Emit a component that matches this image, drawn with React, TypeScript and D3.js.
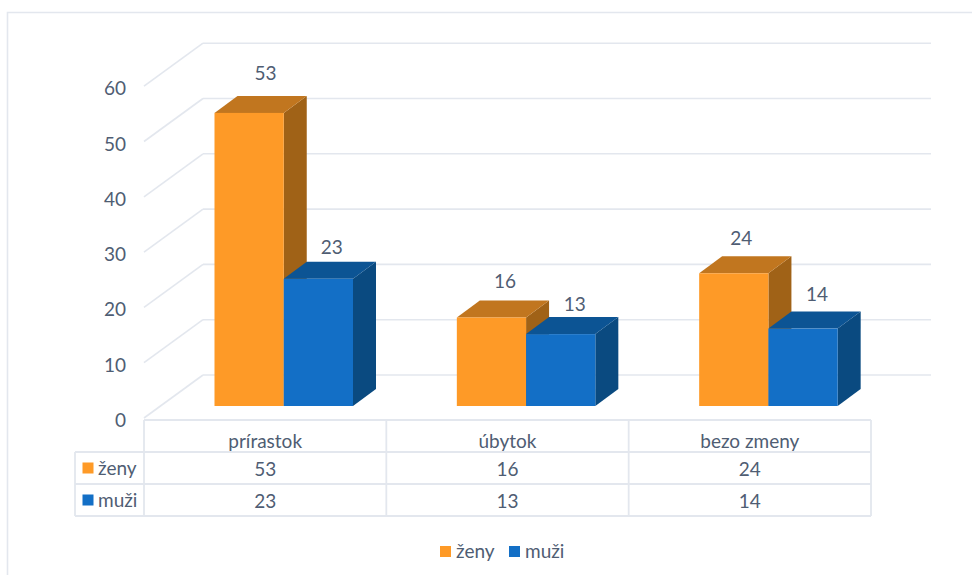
import React from "react";
import * as d3 from "d3";

const categories = ["prírastok", "úbytok", "bezo zmeny"];
const seriesNames = ["ženy", "muži"];
const zeny = [53, 16, 24];
const muzi = [23, 13, 14];
const yTicks = [0, 10, 20, 30, 40, 50, 60];

// Horizontal shift of each value label from its bar centre, and its lift above the bar top.
const labelShiftX = [[16.5, 13.5, 7.5], [13.5, 14, 14]];
const labelLift = [[40, 37, 36], [32, 31, 35]];

const WIDTH = 972;
const HEIGHT = 575;
const FONT = "Lato, 'Open Sans', sans-serif";
const FONT_SIZE = 19;
const TEXT = "#4f5d73";
const GRID = "#e3e7ee";
const PALETTE = [
  { front: "#fe9a27", top: "#c1761f", side: "#a06217" },
  { front: "#136fc6", top: "#0c5494", side: "#0a4a80" },
];

// Plot box and 3D offsets.
const tableLeft = 144;
const tableRight = 871;
const stubLeft = 75;
const rowLines = [420, 452, 484, 516];
const wallDepth = { x: 59, y: 43 };
const barDepth = { x: 23, y: 17 };
const floorY = 406;
const unit = 5.53;

const x0 = d3.scaleBand<string>().domain(categories).range([tableLeft, tableRight]);
const x1 = d3.scaleBand<string>().domain(seriesNames).range([70.5, 209]);
const barH = d3.scaleLinear().domain([0, 60]).range([0, 60 * unit]);
const yFront = d3.scaleLinear().domain([0, 60]).range([418, 418 - 60 * unit]);
const yBack = (v: number) => yFront(v) - wallDepth.y;

const poly = (pts: [number, number][]) => d3.line()(pts) + "Z";
const valuesBySeries = [zeny, muzi];

export default function App() {
  const bw = x1.bandwidth();
  return (
    <svg
      width={WIDTH}
      height={HEIGHT}
      viewBox={`0 0 ${WIDTH} ${HEIGHT}`}
      style={{ position: "absolute", left: 0, top: 0, display: "block", background: "#fff" }}
      fontFamily={FONT}
      fontSize={FONT_SIZE}
      fill={TEXT}
    >
      {/* chart frame */}
      <path d={`M7.5,${HEIGHT}V12.5H${WIDTH}`} fill="none" stroke={GRID} strokeWidth={1.6} />

      {/* back wall gridlines with their diagonal side-wall segments */}
      {yTicks.map((t) => (
        <g key={t} fill="none" stroke={GRID} strokeWidth={1.6}>
          <line x1={tableLeft} y1={yFront(t)} x2={tableLeft + wallDepth.x} y2={yBack(t)} />
          <line x1={tableLeft + wallDepth.x} y1={yBack(t)} x2={931} y2={yBack(t)} />
        </g>
      ))}

      {yTicks.map((t) => (
        <text key={t} x={126} y={yFront(t) + 1.5} textAnchor="end" dominantBaseline="central">
          {t}
        </text>
      ))}

      {/* bars, left to right so the nearer blocks cover the previous side faces */}
      {categories.map((c, ci) =>
        seriesNames.map((s, si) => {
          const v = valuesBySeries[si][ci];
          const l = x0(c)! + x1(s)!;
          const r = l + bw;
          const t = floorY - barH(v);
          const dx = barDepth.x;
          const dy = barDepth.y;
          const col = PALETTE[si];
          return (
            <g key={c + s}>
              <path d={poly([[r, floorY], [r + dx, floorY - dy], [r + dx, t - dy], [r, t]])} fill={col.side} />
              <path d={poly([[l, t], [l + dx, t - dy], [r + dx, t - dy], [r, t]])} fill={col.top} />
              <rect x={l} y={t} width={bw} height={floorY - t} fill={col.front} />
            </g>
          );
        })
      )}

      {/* value labels above the bars */}
      {categories.map((c, ci) =>
        seriesNames.map((s, si) => {
          const v = valuesBySeries[si][ci];
          return (
            <text
              key={c + s}
              x={x0(c)! + x1(s)! + bw / 2 + labelShiftX[si][ci]}
              y={floorY - barH(v) - labelLift[si][ci]}
              textAnchor="middle"
              dominantBaseline="central"
            >
              {v}
            </text>
          );
        })
      )}

      {/* data table */}
      <g fill="none" stroke={GRID} strokeWidth={1.8}>
        <line x1={tableLeft} y1={rowLines[0]} x2={tableRight} y2={rowLines[0]} />
        {rowLines.slice(1).map((y) => (
          <line key={y} x1={stubLeft} y1={y} x2={tableRight} y2={y} />
        ))}
        <line x1={stubLeft} y1={rowLines[1]} x2={stubLeft} y2={rowLines[3]} />
        <line x1={tableLeft} y1={rowLines[0]} x2={tableLeft} y2={rowLines[3]} />
        {categories.map((c) => {
          const x = x0(c)! + x0.bandwidth();
          return <line key={c} x1={x} y1={rowLines[0]} x2={x} y2={rowLines[3]} />;
        })}
      </g>
      {categories.map((c) => (
        <text key={c} x={x0(c)! + x0.bandwidth() / 2} y={440.5} textAnchor="middle" dominantBaseline="central">
          {c}
        </text>
      ))}
      {seriesNames.map((s, si) => {
        const cy = (rowLines[si + 1] + rowLines[si + 2]) / 2;
        return (
          <g key={s}>
            <rect x={82.5} y={cy - 5.5} width={11} height={11} fill={PALETTE[si].front} />
            <text x={98} y={cy - 0.5} dominantBaseline="central">
              {s}
            </text>
            {categories.map((c, ci) => (
              <text key={c} x={x0(c)! + x0.bandwidth() / 2} y={cy} textAnchor="middle" dominantBaseline="central">
                {valuesBySeries[si][ci]}
              </text>
            ))}
          </g>
        );
      })}

      {/* legend */}
      {seriesNames.map((s, si) => {
        const x = si === 0 ? 440 : 509;
        return (
          <g key={s}>
            <rect x={x} y={546} width={11} height={11} fill={PALETTE[si].front} />
            <text x={x + 16} y={550.5} dominantBaseline="central">
              {s}
            </text>
          </g>
        );
      })}
    </svg>
  );
}
